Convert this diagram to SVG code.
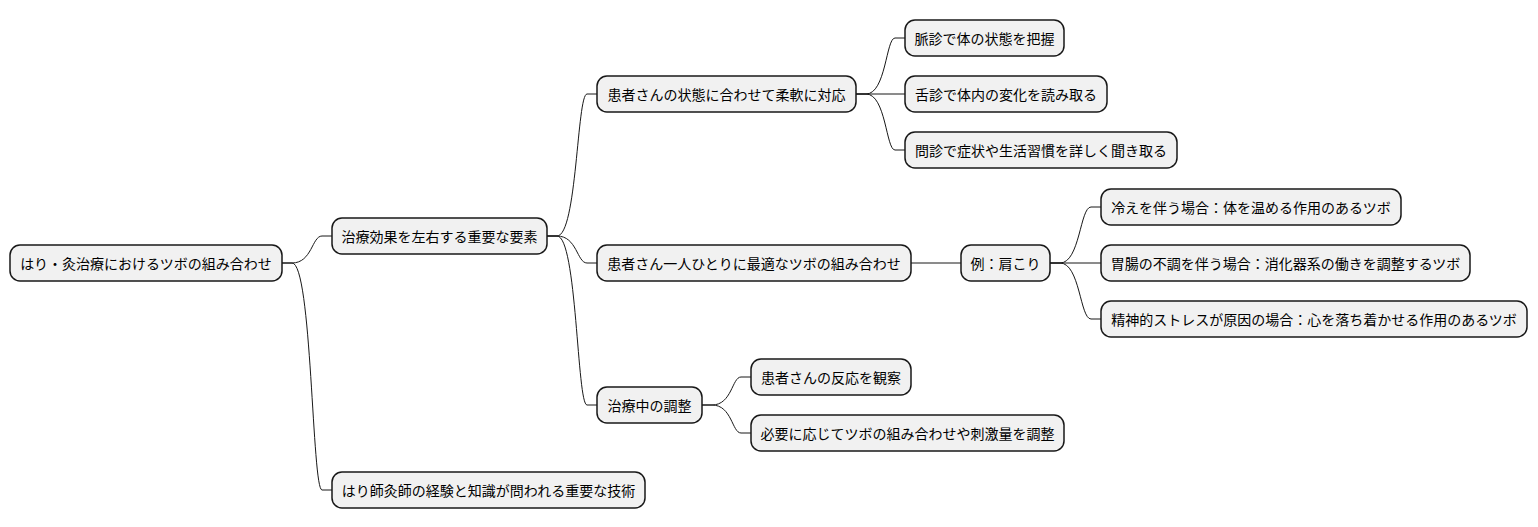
<svg xmlns="http://www.w3.org/2000/svg" width="1538" height="527" viewBox="0 0 1538 527">
<style>
.n rect{fill:#f1f1f1;stroke:#181818;stroke-width:1.5}
.n text{font-family:"Noto Sans CJK JP","Noto Sans",sans-serif;font-size:14px;fill:#000;text-anchor:middle;dominant-baseline:central}
#c path{fill:none;stroke:#181818;stroke-width:1}
</style>
<rect width="1538" height="527" fill="#fff"/>
<g id="c">
<path d="M282,263 L292,263 C312,263 312,236 322,236 L332,236"/>
<path d="M282,263 L292,263 C312,263 312,490 322,490 L332,490"/>
<path d="M547,236 L557,236 C577,236 577,94 587,94 L597,94"/>
<path d="M547,236 L557,236 C577,236 577,263 587,263 L597,263"/>
<path d="M547,236 L557,236 C577,236 577,405 587,405 L597,405"/>
<path d="M856,94 L866,94 C886,94 886,38 895,38 L905,38"/>
<path d="M856,94 L905,94"/>
<path d="M856,94 L866,94 C886,94 886,150 895,150 L905,150"/>
<path d="M911,263 L961,263"/>
<path d="M1050,263 L1060,263 C1080,263 1080,207 1091,207 L1101,207"/>
<path d="M1050,263 L1101,263"/>
<path d="M1050,263 L1060,263 C1080,263 1080,319 1091,319 L1101,319"/>
<path d="M702,405 L712,405 C732,405 732,377 741,377 L751,377"/>
<path d="M702,405 L712,405 C732,405 732,433 741,433 L751,433"/>
</g>
<g id="n1" class="n"><rect x="10" y="245" width="272" height="36" rx="10"/><text x="146" y="263">はり・灸治療におけるツボの組み合わせ</text></g>
<g id="n2" class="n"><rect x="332" y="218" width="215" height="36" rx="10"/><text x="439.5" y="236">治療効果を左右する重要な要素</text></g>
<g id="n3" class="n"><rect x="332" y="472" width="313" height="36" rx="10"/><text x="488.5" y="490">はり師灸師の経験と知識が問われる重要な技術</text></g>
<g id="n4" class="n"><rect x="597" y="76" width="259" height="36" rx="10"/><text x="726.5" y="94">患者さんの状態に合わせて柔軟に対応</text></g>
<g id="n5" class="n"><rect x="597" y="245" width="314" height="36" rx="10"/><text x="754" y="263">患者さん一人ひとりに最適なツボの組み合わせ</text></g>
<g id="n6" class="n"><rect x="597" y="387" width="105" height="36" rx="10"/><text x="649.5" y="405">治療中の調整</text></g>
<g id="n7" class="n"><rect x="905" y="20" width="159" height="36" rx="10"/><text x="984.5" y="38">脈診で体の状態を把握</text></g>
<g id="n8" class="n"><rect x="905" y="76" width="202" height="36" rx="10"/><text x="1006" y="94">舌診で体内の変化を読み取る</text></g>
<g id="n9" class="n"><rect x="905" y="132" width="272" height="36" rx="10"/><text x="1041" y="150">問診で症状や生活習慣を詳しく聞き取る</text></g>
<g id="n10" class="n"><rect x="961" y="245" width="89" height="36" rx="10"/><text x="1005.5" y="263">例：肩こり</text></g>
<g id="n11" class="n"><rect x="1101" y="189" width="300" height="36" rx="10"/><text x="1251" y="207">冷えを伴う場合：体を温める作用のあるツボ</text></g>
<g id="n12" class="n"><rect x="1101" y="245" width="369" height="36" rx="10"/><text x="1285.5" y="263">胃腸の不調を伴う場合：消化器系の働きを調整するツボ</text></g>
<g id="n13" class="n"><rect x="1101" y="301" width="426" height="36" rx="10"/><text x="1314" y="319">精神的ストレスが原因の場合：心を落ち着かせる作用のあるツボ</text></g>
<g id="n14" class="n"><rect x="751" y="359" width="160" height="36" rx="10"/><text x="831" y="377">患者さんの反応を観察</text></g>
<g id="n15" class="n"><rect x="751" y="415" width="313" height="36" rx="10"/><text x="907.5" y="433">必要に応じてツボの組み合わせや刺激量を調整</text></g>
</svg>
